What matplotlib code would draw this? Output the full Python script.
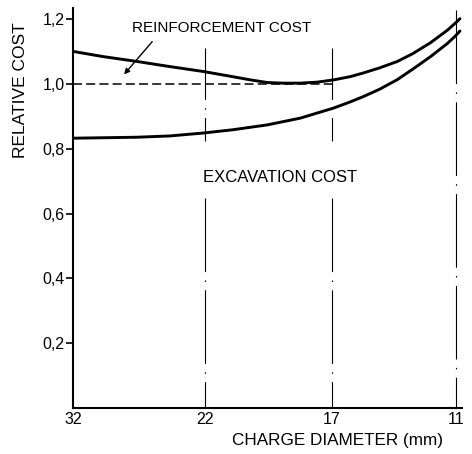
import matplotlib
matplotlib.use("Agg")
import matplotlib.pyplot as plt

plt.rcParams['font.family'] = ['Liberation Sans', 'DejaVu Sans']
plt.rcParams['lines.scale_dashes'] = False

# ---- data ----
tick_labels = ["32", "22", "17", "11"]          # charge diameter (mm)
tick_pos = [0.0, 1.034, 2.028, 3.0]              # position on the drawn axis

reinf_x = [0.0, 0.235, 0.50, 0.76, 1.02, 1.25, 1.39, 1.52, 1.64, 1.78, 1.91,
           2.04, 2.17, 2.27, 2.40, 2.54, 2.66, 2.80, 2.93, 2.99, 3.03]
reinf_y = [1.101, 1.085, 1.070, 1.054, 1.039, 1.023, 1.013, 1.005, 1.003, 1.003, 1.006,
           1.013, 1.023, 1.034, 1.050, 1.070, 1.094, 1.128, 1.166, 1.187, 1.202]

excav_x = [0.0, 0.50, 0.76, 1.02, 1.25, 1.52, 1.78, 2.04, 2.17, 2.27, 2.40,
           2.54, 2.66, 2.80, 2.93, 2.99, 3.03]
excav_y = [0.833, 0.836, 0.840, 0.849, 0.859, 0.874, 0.895, 0.926, 0.945, 0.961, 0.984,
           1.014, 1.046, 1.085, 1.125, 1.147, 1.164]

ref_level = 1.0
ref_end = 2.07

yticks = [0.2, 0.4, 0.6, 0.8, 1.0, 1.2]
ytick_labels = ["0,2", "0,4", "0,6", "0,8", "1,0", "1,2"]

# ---- figure ----
W, H = 472, 454
fig = plt.figure(figsize=(W / 100, H / 100), dpi=100)
ax = fig.add_axes([73 / W, 46 / H, (462 - 73) / W, 400 / H])
ax.set_xlim(0, 3.046)
ax.set_ylim(0, 1.235)

for s in ("top", "right"):
    ax.spines[s].set_visible(False)
for s in ("left", "bottom"):
    ax.spines[s].set_linewidth(1.5)

# vertical dash-dot guide lines
dd = (0, (53, 6, 1.1, 6))
dd_off = (16, (53, 6, 1.1, 6))
for p in tick_pos[1:3]:
    ax.plot([p, p], [1.11, 0.825], color="black", lw=0.8, linestyle=dd_off, zorder=2)
    ax.plot([p, p], [0.649, 0.0], color="black", lw=0.8, linestyle=dd, zorder=2)
ax.plot([tick_pos[3], tick_pos[3]], [1.23, 0.0], color="black", lw=0.8, linestyle=dd, zorder=2)

# dashed reference at 1.0
ax.plot([0, ref_end], [ref_level, ref_level], color="black", lw=1.1,
        linestyle=(0, (6.5, 3)), zorder=3)

# curves
ax.plot(reinf_x, reinf_y, color="black", lw=2.1, solid_capstyle="round",
        solid_joinstyle="round", zorder=4)
ax.plot(excav_x, excav_y, color="black", lw=2.1, solid_capstyle="round",
        solid_joinstyle="round", zorder=4)

# ticks
ax.set_yticks(yticks)
ax.set_yticklabels(ytick_labels, fontsize=11.5)
ax.tick_params(axis="y", direction="out", length=5, width=1.2, pad=1)
ax.set_xticks(tick_pos)
ax.set_xticklabels(tick_labels, fontsize=11.5)
ax.tick_params(axis="x", length=0, pad=3)

# annotations
ax.text(0.462, 1.174, "REINFORCEMENT COST", fontsize=11, ha="left", va="center")
ax.annotate("", xy=(0.40, 1.03), xytext=(0.62, 1.131),
            arrowprops=dict(arrowstyle="-|>", lw=1.0, color="black",
                            mutation_scale=8, shrinkA=0, shrinkB=0))
ax.text(1.018, 0.711, "EXCAVATION COST", fontsize=12, ha="left", va="center")

fig.text(21 / W, 1 - 90 / H, "RELATIVE COST", rotation=90, fontsize=12.5,
         ha="center", va="center")
fig.text(338 / W, 1 - 440 / H, "CHARGE DIAMETER (mm)", fontsize=12.3,
         ha="center", va="center")

fig.savefig("out.png", dpi=100)
